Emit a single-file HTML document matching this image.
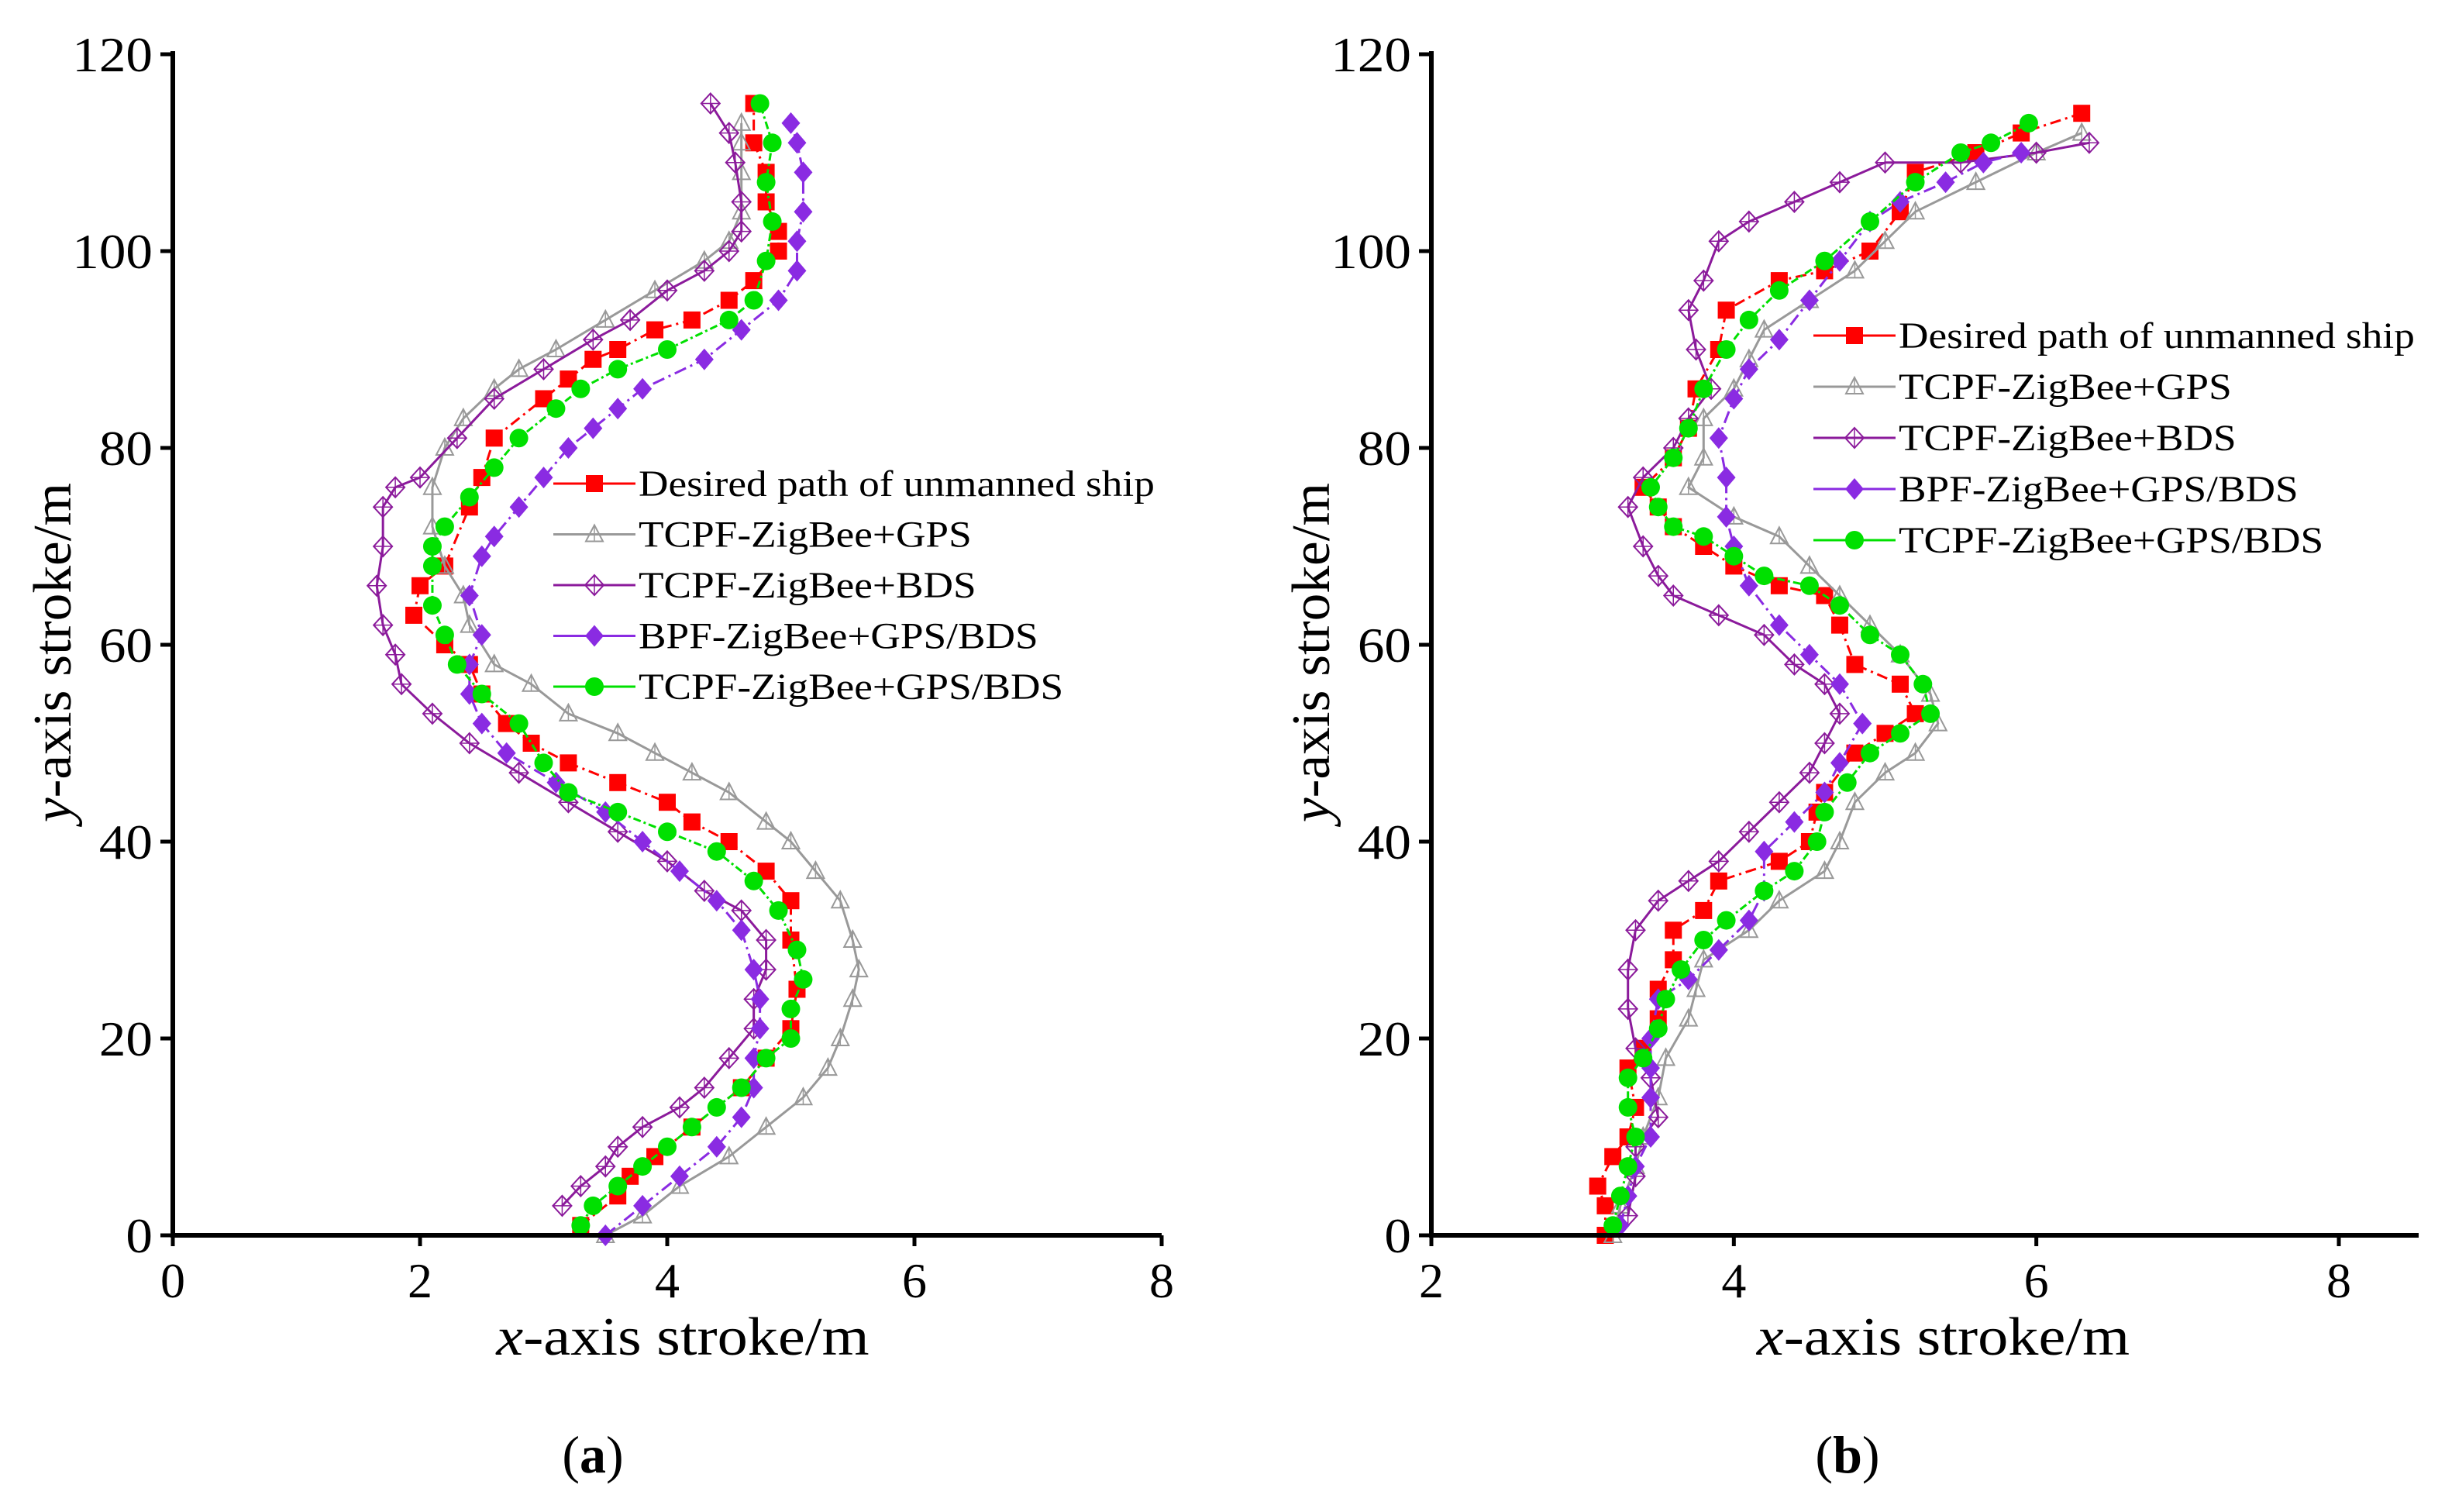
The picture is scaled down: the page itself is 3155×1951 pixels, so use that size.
<!DOCTYPE html>
<html><head><meta charset="utf-8"><style>
html,body{margin:0;padding:0;background:#fff;}
svg{display:block;font-family:"Liberation Serif",serif;}
</style></head><body>
<svg id="fig" width="3155" height="1951" viewBox="0 0 3155 1951" xmlns="http://www.w3.org/2000/svg"></svg>
<script>
// ---- data: panel (a) ----
const aRedX=[3.3,3.6,3.7,3.9,4.2,4.6,4.8,5.0,5.05,5.0,5.0,4.8,4.5,4.2,4.0,3.6,3.2,2.9,2.7,2.5,2.4,2.2,1.95,2.0,2.2,2.4,2.5,2.6,3.0,3.2,3.4,3.6,3.9,4.2,4.5,4.7,4.9,4.9,4.8,4.8,4.7,4.7];
const aRedY=[1,4,6,8,11,15,18,21,25,30,34,37,40,42,44,46,48,50,52,55,58,60,63,66,68,74,77,81,85,87,89,90,92,93,95,97,100,102,105,108,111,115];
const aGpsX=[3.5,3.8,4.1,4.5,4.8,5.1,5.3,5.4,5.5,5.55,5.5,5.4,5.2,5.0,4.8,4.5,4.2,3.9,3.6,3.2,2.9,2.6,2.4,2.35,2.2,2.1,2.1,2.2,2.35,2.6,2.8,3.1,3.5,3.9,4.3,4.5,4.6,4.6,4.6,4.6];
const aGpsY=[0,2,5,8,11,14,17,20,24,27,30,34,37,40,42,45,47,49,51,53,56,58,62,65,68,72,76,80,83,86,88,90,93,96,99,101,104,108,111,113];
const aBdsX=[3.15,3.3,3.5,3.6,3.8,4.1,4.3,4.5,4.7,4.7,4.8,4.8,4.6,4.3,4.0,3.6,3.2,2.8,2.4,2.1,1.85,1.8,1.7,1.65,1.7,1.7,1.8,2.0,2.3,2.6,3.0,3.4,3.7,4.0,4.3,4.5,4.6,4.6,4.55,4.5,4.35];
const aBdsY=[3,5,7,9,11,13,15,18,21,24,27,30,33,35,38,41,44,47,50,53,56,59,62,66,70,74,76,77,81,85,88,91,93,96,98,100,102,105,109,112,115];
const aBpfX=[3.5,3.8,4.1,4.4,4.6,4.7,4.7,4.75,4.75,4.7,4.6,4.4,4.1,3.8,3.5,3.1,2.7,2.5,2.4,2.4,2.5,2.4,2.5,2.6,2.8,3.0,3.2,3.4,3.6,3.8,4.3,4.6,4.9,5.05,5.05,5.1,5.1,5.05,5.0];
const aBpfY=[0,3,6,9,12,15,18,21,24,27,31,34,37,40,43,46,49,52,55,58,61,65,69,71,74,77,80,82,84,86,89,92,95,98,101,104,108,111,113];
const aGrnX=[3.3,3.4,3.6,3.8,4.0,4.2,4.4,4.6,4.8,5.0,5.0,5.1,5.05,4.9,4.7,4.4,4.0,3.6,3.2,3.0,2.8,2.5,2.3,2.2,2.1,2.1,2.1,2.2,2.4,2.6,2.8,3.1,3.3,3.6,4.0,4.5,4.7,4.8,4.85,4.8,4.85,4.75];
const aGrnY=[1,3,5,7,9,11,13,15,18,20,23,26,29,33,36,39,41,43,45,48,52,55,58,61,64,68,70,72,75,78,81,84,86,88,90,93,95,99,103,107,111,115];
// ---- data: panel (b) ----
const bRedX=[3.15,3.15,3.1,3.2,3.3,3.35,3.3,3.4,3.5,3.5,3.6,3.6,3.8,3.9,4.3,4.5,4.55,4.6,4.8,5.0,5.2,5.1,4.8,4.7,4.6,4.3,4.0,3.8,3.6,3.5,3.4,3.6,3.7,3.75,3.9,3.95,4.3,4.6,4.9,5.1,5.2,5.6,5.9,6.3];
const bRedY=[0,3,5,8,10,13,17,19,22,25,28,31,33,36,38,40,43,45,49,51,53,56,58,62,65,66,68,70,72,74,76,79,82,86,90,94,97,98,100,104,108,110,112,114];
const bGpsX=[3.2,3.25,3.35,3.4,3.5,3.55,3.7,3.75,3.8,4.1,4.3,4.6,4.7,4.8,5.0,5.2,5.35,5.3,5.1,4.9,4.7,4.5,4.3,4.0,3.7,3.8,3.8,4.0,4.1,4.2,4.5,4.8,5.0,5.2,5.6,6.0,6.3];
const bGpsY=[0,3,7,10,14,18,22,25,28,31,34,37,40,44,47,49,52,55,59,62,65,68,71,73,76,79,83,86,89,92,95,98,101,104,107,110,112];
const bBdsX=[3.3,3.35,3.35,3.5,3.45,3.35,3.3,3.3,3.35,3.5,3.7,3.9,4.1,4.3,4.5,4.6,4.7,4.6,4.4,4.2,3.9,3.6,3.5,3.4,3.3,3.4,3.6,3.7,3.85,3.75,3.7,3.8,3.9,4.1,4.4,4.7,5.0,5.5,6.0,6.35];
const bBdsY=[2,6,9,12,16,19,23,27,31,34,36,38,41,44,47,50,53,56,58,61,63,65,67,70,74,77,80,83,86,90,94,97,101,103,105,107,109,109,110,111];
const bBpfX=[3.25,3.3,3.35,3.45,3.45,3.45,3.45,3.5,3.7,3.9,4.1,4.2,4.2,4.4,4.6,4.7,4.85,4.7,4.5,4.3,4.1,4.0,3.95,3.95,3.9,4.0,4.1,4.3,4.5,4.7,4.9,5.1,5.4,5.65,5.9];
const bBpfY=[1,4,7,10,14,17,20,24,26,29,32,35,39,42,45,48,52,56,59,62,66,70,73,77,81,85,88,91,95,99,103,105,107,109,110];
const bGrnX=[3.2,3.25,3.3,3.35,3.3,3.3,3.4,3.5,3.55,3.65,3.8,3.95,4.2,4.4,4.55,4.6,4.75,4.9,5.1,5.3,5.25,5.1,4.9,4.7,4.5,4.2,4.0,3.8,3.6,3.5,3.45,3.6,3.7,3.8,3.95,4.1,4.3,4.6,4.9,5.2,5.5,5.7,5.95];
const bGrnY=[1,4,7,10,13,16,18,21,24,27,30,32,35,37,40,43,46,49,51,53,56,59,61,64,66,67,69,71,72,74,76,79,82,86,90,93,96,99,103,107,110,111,113];
const yTicks=[0,20,40,60,80,100,120];
const aXTicks=[0,2,4,6,8];
const bXTicks=[2,4,6,8];
const legendLabels=["Desired path of unmanned ship","TCPF-ZigBee+GPS","TCPF-ZigBee+BDS","BPF-ZigBee+GPS/BDS","TCPF-ZigBee+GPS/BDS"];

const NS="http://www.w3.org/2000/svg";
const svg=document.getElementById('fig');
function mk(tag,attrs,parent){const e=document.createElementNS(NS,tag);for(const k in attrs)e.setAttribute(k,attrs[k]);(parent||svg).appendChild(e);return e;}
function stretch(t,f){const w=t.getComputedTextLength();t.setAttribute('textLength',w*f);t.setAttribute('lengthAdjust','spacingAndGlyphs');}

const styles=[
 {color:'#ff0000',dash:'14,6,3,6',marker:'square'},
 {color:'#999999',dash:'',marker:'triangle'},
 {color:'#8b1a9b',dash:'',marker:'xdiamond'},
 {color:'#8a2be2',dash:'16,6,3,6',marker:'diamond'},
 {color:'#00e000',dash:'10,4,3,4',marker:'circle'}
];
function marker(g,type,c,x,y){
  let e;
  if(type==='square'){e=mk('rect',{x:x-11,y:y-11,width:22,height:22,fill:c.color},g);}
  else if(type==='circle'){e=mk('circle',{cx:x,cy:y,r:12,fill:c.color},g);}
  else if(type==='diamond'){e=mk('polygon',{points:`${x},${y-14} ${x+12},${y} ${x},${y+14} ${x-12},${y}`,fill:c.color},g);}
  else if(type==='triangle'){e=mk('polygon',{points:`${x},${y-12} ${x+11},${y+9} ${x-11},${y+9}`,fill:'none',stroke:c.color,'stroke-width':2},g);
    mk('line',{x1:x,y1:y-12,x2:x,y2:y+9,stroke:c.color,'stroke-width':1.5},g);}
  else {e=mk('polygon',{points:`${x},${y-13} ${x+12},${y} ${x},${y+13} ${x-12},${y}`,fill:'none',stroke:c.color,'stroke-width':2},g);
    mk('line',{x1:x,y1:y-13,x2:x,y2:y+13,stroke:c.color,'stroke-width':1.5},g);
    mk('line',{x1:x-12,y1:y,x2:x+12,y2:y,stroke:c.color,'stroke-width':1.5},g);}
  if(e){}
}

function panel(id,xmin,xmax,px0,px1,axisEnd,xTicks,series,leg,label,labelX){
  const y0=1594,y1=70;
  const sx=v=>px0+(v-xmin)/(xmax-xmin)*(px1-px0);
  const sy=v=>y0-(v/120)*(y0-y1);
  const g=mk('g',{});
  
  
  series.forEach((s,i)=>{
    const st=styles[i];
    const sg=mk('g',{},g);
    
    
    const pts=s[0].map((v,k)=>sx(v)+','+sy(s[1][k])).join(' ');
    mk('polyline',{points:pts,fill:'none',stroke:st.color,'stroke-width':3,'stroke-dasharray':st.dash},sg);
    s[0].forEach((v,k)=>marker(sg,st.marker,st,sx(v),sy(s[1][k])));
  });
  const ax=mk('g',{},g);
  
  
  mk('line',{x1:px0,y1:y1-4,x2:px0,y2:y0+3,stroke:'#000','stroke-width':6},ax);
  mk('line',{x1:px0-3,y1:y0,x2:axisEnd,y2:y0,stroke:'#000','stroke-width':6},ax);
  yTicks.forEach(t=>{
    mk('line',{x1:px0-16,y1:sy(t),x2:px0,y2:sy(t),stroke:'#000','stroke-width':5},ax);
    const tx=mk('text',{x:px0-26,y:sy(t)+22,'text-anchor':'end','font-size':64},ax);tx.textContent=t;
    stretch(tx,1.08);
    
  });
  xTicks.forEach(t=>{
    mk('line',{x1:sx(t),y1:y0,x2:sx(t),y2:y0+14,stroke:'#000','stroke-width':5},ax);
    const tx=mk('text',{x:sx(t),y:y0+80,'text-anchor':'middle','font-size':64},ax);tx.textContent=t;
    
  });
  const xt=mk('text',{x:(px0+px1)/2+(id==='a'?20:75),y:1748,'text-anchor':'middle','font-size':70},g);
  xt.innerHTML='<tspan font-style="italic">x</tspan>-axis stroke/m';
  stretch(xt,1.12);
  
  const yx=px0-132, yc=842;
  const yt=mk('text',{x:yx,y:yc,'text-anchor':'middle','font-size':70,transform:`rotate(-90 ${yx} ${yc})`},g);
  yt.innerHTML='<tspan font-style="italic">y</tspan>-axis stroke/m';
  stretch(yt,1.02);
  
  const lg=mk('g',{},g);
  
  
  legendLabels.forEach((lab,i)=>{
    const st=styles[i];const yy=leg.y+i*leg.dy;
    const en=mk('g',{},lg);
    
    
    mk('line',{x1:leg.x,y1:yy,x2:leg.x+106,y2:yy,stroke:st.color,'stroke-width':3},en);
    marker(en,st.marker,st,leg.x+53,yy);
    const t=mk('text',{x:leg.x+110,y:yy+16,'font-size':48},en);t.textContent=lab;
    stretch(t,1.11);
  });
  const pl=mk('text',{x:labelX,y:1900,'text-anchor':'middle','font-size':68},g);
  pl.innerHTML='(<tspan font-weight="bold">'+label+'</tspan>)';
  
}
panel('a',0,8,223,1499,1499,aXTicks,
  [[aRedX,aRedY],[aGpsX,aGpsY],[aBdsX,aBdsY],[aBpfX,aBpfY],[aGrnX,aGrnY]],
  {x:714,y:624,dy:65.5},'a',765);
panel('b',2,8,1847,3018,3121,bXTicks,
  [[bRedX,bRedY],[bGpsX,bGpsY],[bBdsX,bBdsY],[bBpfX,bBpfY],[bGrnX,bGrnY]],
  {x:2340,y:433,dy:66},'b',2384);
</script>
</body></html>
